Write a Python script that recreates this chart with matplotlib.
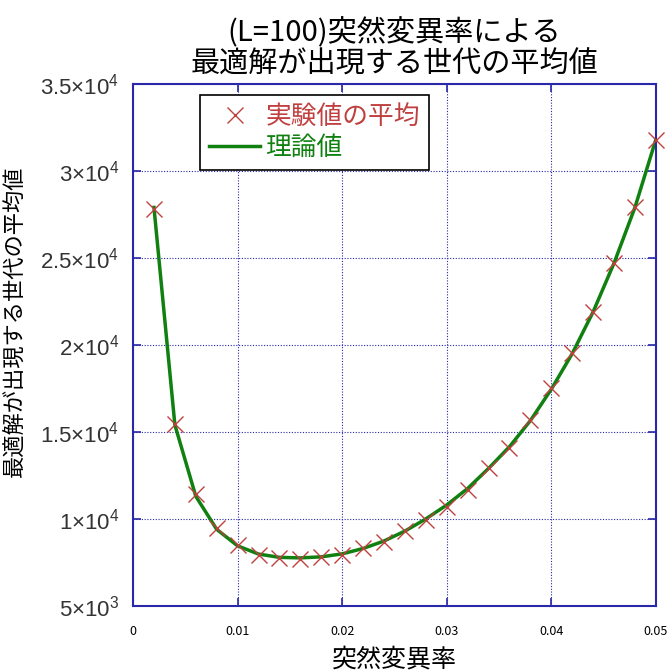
import matplotlib
matplotlib.use("Agg")
import matplotlib.pyplot as plt
from matplotlib.ticker import FixedLocator, FixedFormatter

plt.rcParams['font.family'] = ['Noto Sans CJK JP', 'DejaVu Sans']

# mutation rate
rate = [0.002, 0.004, 0.006, 0.008, 0.010, 0.012, 0.014, 0.016, 0.018, 0.020,
        0.022, 0.024, 0.026, 0.028, 0.030, 0.032, 0.034, 0.036, 0.038, 0.040,
        0.042, 0.044, 0.046, 0.048, 0.050]
# experimental mean
exp_mean = [27800, 15450, 11450, 9480, 8500, 7950, 7760, 7700, 7800, 7950,
            8330, 8680, 9300, 9950, 10700, 11670, 12930, 14080, 15690, 17530,
            19540, 21900, 24710, 27930, 31780]
# theory
theory = [27900, 15400, 11300, 9400, 8450, 7980, 7790, 7760, 7820, 7990,
          8300, 8730, 9300, 10000, 10800, 11750, 12900, 14150, 15650, 17450,
          19500, 21900, 24700, 27900, 31800]

yticks = [5000, 10000, 15000, 20000, 25000, 30000, 35000]
ylabels = [r'$\mathregular{5{\times}10^3}$', r'$\mathregular{1{\times}10^4}$',
           r'$\mathregular{1.5{\times}10^4}$', r'$\mathregular{2{\times}10^4}$',
           r'$\mathregular{2.5{\times}10^4}$', r'$\mathregular{3{\times}10^4}$',
           r'$\mathregular{3.5{\times}10^4}$']
xticks = [0, 0.01, 0.02, 0.03, 0.04, 0.05]
xlabels = ['0', '0.01', '0.02', '0.03', '0.04', '0.05']

frame = '#2828a8'
red = '#c04040'
green = '#108010'

fig = plt.figure(figsize=(6.72, 6.71), dpi=100)
ax = fig.add_axes([0.198, 0.097, 0.778, 0.778])

ax.plot(rate, theory, color=green, lw=2.5, label='理論値', zorder=2)
ax.plot(rate, exp_mean, ls='none', marker='x', ms=12, mew=1.0, color=red,
        label='実験値の平均', zorder=3, clip_on=False)

ax.set_xlim(0, 0.05)
ax.set_ylim(5000, 35000)
ax.xaxis.set_major_locator(FixedLocator(xticks))
ax.xaxis.set_major_formatter(FixedFormatter(xlabels))
ax.yaxis.set_major_locator(FixedLocator(yticks))
ax.yaxis.set_major_formatter(FixedFormatter(ylabels))

ax.grid(True, color=frame, ls=(0, (1, 1.5)), lw=0.8)
for s in ax.spines.values():
    s.set_color(frame)
    s.set_linewidth(1.5)
ax.tick_params(direction='in', top=True, right=True, length=6, color=frame, width=1.2)
ax.tick_params(axis='x', labelsize=9, pad=14)
ax.tick_params(axis='y', labelsize=16, pad=10, labelcolor='#333333')
for t in ax.get_yticklabels():
    t.set_family(['Liberation Sans', 'DejaVu Sans'])

ax.set_xlabel('突然変異率', fontsize=18, va='center')
ax.xaxis.set_label_coords(0.5, -0.102)
ax.set_ylabel('最適解が出現する世代の平均値', fontsize=16)
ax.yaxis.set_label_coords(-0.205, 0.545)
ax.set_title('(L=100)突然変異率による\n最適解が出現する世代の平均値', fontsize=21,
             linespacing=1.05, pad=8)

h, l = ax.get_legend_handles_labels()
leg = ax.legend(h[::-1], l[::-1], loc='upper left', bbox_to_anchor=(0.128, 0.979),
                borderaxespad=0, fontsize=18.5, frameon=True, fancybox=False,
                edgecolor='black', framealpha=1, handlelength=2.0,
                handletextpad=0.2, borderpad=0.35, labelspacing=0.2)
leg.get_frame().set_linewidth(1.2)
leg.get_texts()[0].set_color(red)
leg.get_texts()[1].set_color(green)

fig.savefig('out.png', dpi=100)
